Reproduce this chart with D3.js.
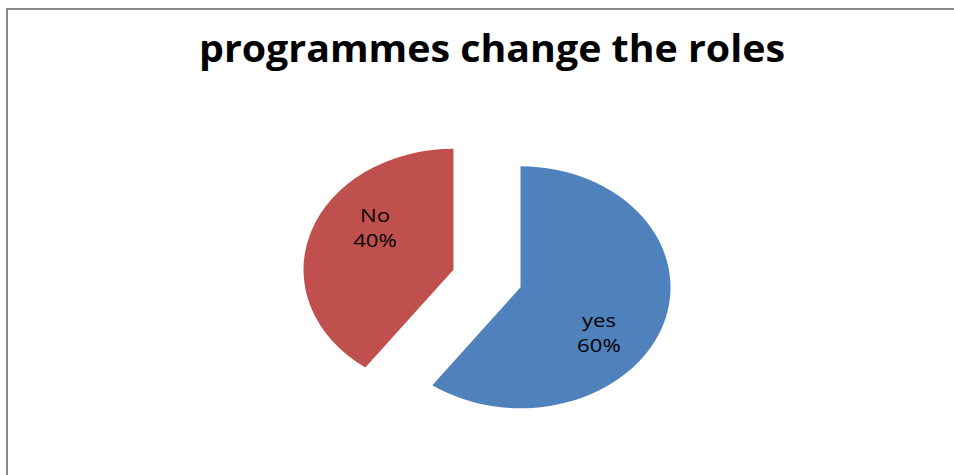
<!DOCTYPE html>
<html>
<head>
<meta charset="utf-8">
<script src="https://cdn.jsdelivr.net/npm/d3@7"></script>
<style>
  body { margin: 0; background: #fff; }
  svg { display: block; }
</style>
</head>
<body>
<div id="chart"></div>
<script>
// data
const categories = ['yes', 'No'];
const values = [60, 40];
const colors = ['#4F81BD', '#C0504D'];
const title = 'programmes change the roles';

const width = 954, height = 475;

const svg = d3.select('#chart')
  .append('svg')
  .attr('width', width)
  .attr('height', height);

// chart frame (right and bottom edges are cut off in the original)
svg.append('rect')
  .attr('x', 7).attr('y', 9)
  .attr('width', 960).attr('height', 480)
  .attr('fill', '#fff')
  .attr('stroke', '#898989')
  .attr('stroke-width', 2);

svg.append('text')
  .attr('x', 492).attr('y', 62)
  .attr('text-anchor', 'middle')
  .attr('textLength', 586)
  .attr('lengthAdjust', 'spacingAndGlyphs')
  .style('font-family', '"Open Sans", sans-serif')
  .style('font-weight', 'bold')
  .style('font-size', '37px')
  .text(title);

// pie is an ellipse: draw on a unit circle and stretch it
const r = 100, rx = 150, ry = 121;
const cx = 487, cy = 278.5;
const explode = 0.235;

const pie = d3.pie().sort(null).value((d) => d);
const arcs = pie(values);
const arc = d3.arc().innerRadius(0).outerRadius(r);

const g = svg.append('g')
  .attr('transform', `translate(${cx},${cy}) scale(${rx / r},${ry / r})`);

g.selectAll('path')
  .data(arcs)
  .join('path')
  .attr('d', arc)
  .attr('fill', (d, i) => colors[i])
  .attr('transform', (d) => {
    const a = (d.startAngle + d.endAngle) / 2;
    return `translate(${Math.sin(a) * r * explode},${-Math.cos(a) * r * explode})`;
  });

// labels, not stretched with the pie
const lab = svg.append('g')
  .style('font-family', '"Open Sans", sans-serif')
  .style('font-size', '18.5px')
  .attr('fill', '#000');

arcs.forEach((d, i) => {
  const a = (d.startAngle + d.endAngle) / 2;
  const x = cx + Math.sin(a) * rx * (explode + 0.55);
  const y = cy - Math.cos(a) * ry * (explode + 1.18);
  [categories[i], values[i] + '%'].forEach((s, k) => {
    lab.append('text')
      .attr('text-anchor', 'middle')
      .attr('transform', `translate(${x},${y - 4 + k * 25}) scale(1.2,1)`)
      .text(s);
  });
});
</script>
</body>
</html>
